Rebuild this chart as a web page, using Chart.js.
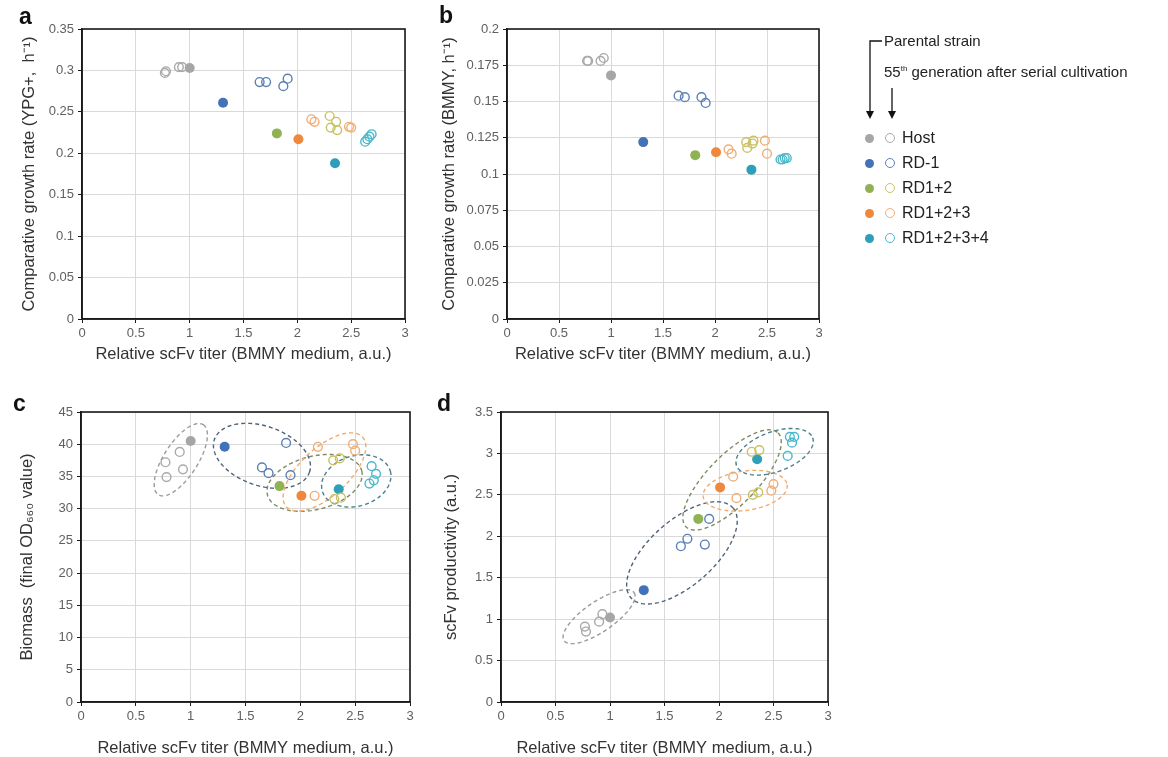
<!DOCTYPE html>
<html><head><meta charset="utf-8">
<script src="https://cdn.jsdelivr.net/npm/chart.js@4.4.1/dist/chart.umd.min.js"></script>
<style>
html,body{margin:0;padding:0;background:#fff;}
body{width:1168px;height:757px;overflow:hidden;position:relative;font-family:"Liberation Sans",Arial,sans-serif;}
.pan{position:absolute;}
.lab{position:absolute;font-weight:bold;font-size:23px;line-height:23px;color:#111;}
.lg{position:absolute;color:#222;white-space:nowrap;}
.dot{position:absolute;width:9px;height:9px;border-radius:50%;}
.ring{position:absolute;width:8px;height:8px;border-radius:50%;border:1.3px solid;background:#fff;}
</style></head>
<body>
<div class="pan" style="left:0;top:0;width:420px;height:370px;"><canvas id="ca"></canvas></div>
<div class="pan" style="left:420px;top:0;width:420px;height:370px;"><canvas id="cb"></canvas></div>
<div class="pan" style="left:0;top:380px;width:420px;height:377px;"><canvas id="cc"></canvas></div>
<div class="pan" style="left:420px;top:380px;width:420px;height:377px;"><canvas id="cd"></canvas></div>
<div class="lab" style="left:19px;top:5px;">a</div>
<div class="lab" style="left:439px;top:4px;">b</div>
<div class="lab" style="left:13px;top:392px;">c</div>
<div class="lab" style="left:437px;top:392px;">d</div>
<div id="legend"></div>
<script>
// ---------- data ----------
const groupNames = ['Host', 'RD-1', 'RD1+2', 'RD1+2+3', 'RD1+2+3+4'];
const xTickValues = [0, 0.5, 1, 1.5, 2, 2.5, 3];
const xTickLabels = ['0', '0.5', '1', '1.5', '2', '2.5', '3'];
const yTicksA = [0, 0.05, 0.1, 0.15, 0.2, 0.25, 0.3, 0.35];
const yLabelsA = ['0', '0.05', '0.1', '0.15', '0.2', '0.25', '0.3', '0.35'];
const yTicksB = [0, 0.025, 0.05, 0.075, 0.1, 0.125, 0.15, 0.175, 0.2];
const yLabelsB = ['0', '0.025', '0.05', '0.075', '0.1', '0.125', '0.15', '0.175', '0.2'];
const yTicksC = [0, 5, 10, 15, 20, 25, 30, 35, 40, 45];
const yLabelsC = ['0', '5', '10', '15', '20', '25', '30', '35', '40', '45'];
const yTicksD = [0, 0.5, 1, 1.5, 2, 2.5, 3, 3.5];
const yLabelsD = ['0', '0.5', '1', '1.5', '2', '2.5', '3', '3.5'];

// relative scFv titer (x) – parental strains (one per group)
const xParental = [1.00, 1.31, 1.81, 2.01, 2.35];
// relative scFv titer (x) – 55th generation clones per group
const xHost55 = [0.77, 0.78, 0.90, 0.93];
const xRD1_55 = [1.65, 1.71, 1.87, 1.91];
const xRD12_55 = [2.30, 2.31, 2.36, 2.37];
const xRD123_55 = [2.13, 2.16, 2.48, 2.50];
const xRD1234_55 = [2.63, 2.65, 2.67, 2.69];

// panel a: growth rate YPG+
const aParental = [0.303, 0.261, 0.224, 0.217, 0.188];
const aHost55 = [0.297, 0.299, 0.304, 0.304];
const aRD1_55 = [0.286, 0.286, 0.281, 0.290];
const aRD12_55 = [0.245, 0.231, 0.238, 0.228];
const aRD123_55 = [0.241, 0.238, 0.232, 0.231];
const aRD1234_55 = [0.214, 0.217, 0.220, 0.223];

// panel b: growth rate BMMY
const bParental = [0.168, 0.122, 0.113, 0.115, 0.103];
const bHost55 = [0.178, 0.178, 0.178, 0.180];
const bRD1_55 = [0.154, 0.153, 0.153, 0.149];
const bRD12_55 = [0.122, 0.118, 0.121, 0.123];
const bRD123_55 = [0.117, 0.114, 0.123, 0.114];
const bRD1234_55 = [0.110, 0.110, 0.111, 0.111];

// panel c: biomass
const cParental = [40.5, 39.6, 33.5, 32.0, 33.0];
const cHost55 = [37.2, 34.9, 38.8, 36.1];
const cRD1_55 = [36.4, 35.5, 40.2, 35.2];
const cRD12_55 = [37.5, 31.5, 37.8, 31.7];
const cRD123_55 = [32.0, 39.6, 40.0, 39.0];
const cRD1234_55 = [33.9, 36.6, 34.4, 35.4];

// panel d: scFv productivity
const dParental = [1.02, 1.35, 2.21, 2.59, 2.93];
const dHost55 = [0.91, 0.85, 0.97, 1.06];
const dRD1_55 = [1.88, 1.97, 1.90, 2.21];
const dRD12_55 = [3.02, 2.50, 2.53, 3.04];
const dRD123_55 = [2.72, 2.46, 2.55, 2.63];
const dRD1234_55 = [2.97, 3.20, 3.13, 3.20];

// group ellipses [centerX, centerY, axis1X, axis1Y, axis2X, axis2Y] in data units
const cEllipses = [
  [0.91, 37.6, 0.205, 5.43, 0.130, -1.43],
  [1.65, 38.2, 0.433, -2.56, 0.091, 4.35],
  [2.13, 34.0, 0.43, 1.86, 0.060, -4.0],
  [2.22, 35.7, 0.346, 5.43, 0.150, -2.7],
  [2.51, 34.3, 0.31, 1.55, 0.063, -3.75]
];
const dEllipses = [
  [0.90, 1.03, 0.321, 0.29, 0.079, -0.148],
  [1.66, 1.80, 0.468, 0.543, 0.196, -0.294],
  [2.12, 2.68, 0.422, 0.567, 0.160, -0.211],
  [2.24, 2.55, 0.385, 0.072, 0.025, -0.235],
  [2.51, 3.02, 0.349, 0.169, 0.064, -0.225]
];

// ---------- styles ----------
const fillColors = ['#a6a6a6', '#4472b8', '#8fb352', '#f0883c', '#2e9fb8'];
const openColors = ['#a9a9a9', '#5b80b6', '#c9c264', '#f2ad74', '#4bb9cc'];
const ellipseColors = ['#9c9c9c', '#4f6278', '#7f8b63', '#f2ab6c', '#4c808c'];
const FONT = '"Liberation Sans", Arial, sans-serif';
Chart.defaults.font.family = FONT;

const ellipsePlugin = {
  id: 'ellipses',
  beforeDatasetsDraw(chart, args, opts) {
    const list = opts.items || [];
    const xs = chart.scales.x, ys = chart.scales.y, ctx = chart.ctx;
    ctx.save();
    list.forEach((e, i) => {
      const [cx, cy, ux, uy, vx, vy] = e;
      ctx.beginPath();
      for (let k = 0; k <= 120; k++) {
        const t = k / 120 * 2 * Math.PI;
        const px = xs.getPixelForValue(cx + ux * Math.cos(t) + vx * Math.sin(t));
        const py = ys.getPixelForValue(cy + uy * Math.cos(t) + vy * Math.sin(t));
        if (k) ctx.lineTo(px, py); else ctx.moveTo(px, py);
      }
      ctx.closePath();
      ctx.setLineDash([4, 3]);
      ctx.lineWidth = 1.4;
      ctx.strokeStyle = ellipseColors[i];
      ctx.stroke();
    });
    ctx.restore();
  }
};
const framePlugin = {
  id: 'frame',
  afterDatasetsDraw(chart) {
    const a = chart.chartArea, ctx = chart.ctx;
    ctx.save();
    ctx.strokeStyle = '#1a1a1a';
    ctx.lineWidth = 1.6;
    ctx.strokeRect(a.left, a.top, a.right - a.left, a.bottom - a.top);
    ctx.restore();
  }
};

function pts(xs, ys) { return xs.map((x, i) => ({x: x, y: ys[i]})); }

function makePanel(id, cfg) {
  const open55X = [xHost55, xRD1_55, xRD12_55, xRD123_55, xRD1234_55];
  const datasets = [];
  cfg.open.forEach((ys, g) => {
    datasets.push({
      label: groupNames[g] + ' 55th', data: pts(open55X[g], ys),
      pointRadius: 4.4, pointBorderWidth: 1.4,
      pointBackgroundColor: 'rgba(255,255,255,0)', pointBorderColor: openColors[g],
      showLine: false
    });
  });
  cfg.parental.forEach((y, g) => {
    datasets.push({
      label: groupNames[g] + ' parental', data: [{x: xParental[g], y: y}],
      pointRadius: 5, pointBorderWidth: 0,
      pointBackgroundColor: fillColors[g], pointBorderColor: fillColors[g],
      showLine: false
    });
  });
  const W = 420, H = cfg.H;
  new Chart(document.getElementById(id), {
    type: 'scatter',
    data: {datasets},
    plugins: [ellipsePlugin, framePlugin],
    options: {
      responsive: true, maintainAspectRatio: false, animation: false,
      layout: {padding: {left: 0, top: cfg.T, right: W - cfg.R, bottom: 0}},
      plugins: {legend: {display: false}, tooltip: {enabled: false},
        ellipses: {items: cfg.ellipses || []}},
      scales: {
        x: {
          type: 'linear', min: 0, max: 3,
          afterBuildTicks: s => { s.ticks = xTickValues.map(v => ({value: v})); },
          afterFit: s => { s.height = H - cfg.B; },
          ticks: {callback: (v, i) => xTickLabels[i], font: {size: 13}, color: '#606060', padding: 3, maxRotation: 0},
          grid: {color: '#d9d9d9', lineWidth: 1, tickColor: '#1a1a1a', tickLength: 4},
          border: {color: '#1a1a1a', width: 1.6},
          title: {display: true, text: 'Relative scFv titer (BMMY medium, a.u.)', color: '#333',
            font: {size: 16.5, lineHeight: 1.05}, padding: {top: 0, bottom: cfg.xtb}}
        },
        y: {
          type: 'linear', min: 0, max: cfg.ymax,
          afterBuildTicks: s => { s.ticks = cfg.yt.map(v => ({value: v})); },
          afterFit: s => { s.width = cfg.L; },
          ticks: {callback: (v, i) => cfg.yl[i], font: {size: 13}, color: '#606060', padding: 4},
          grid: {color: '#d9d9d9', lineWidth: 1, tickColor: '#1a1a1a', tickLength: 4},
          border: {color: '#1a1a1a', width: 1.6},
          title: {display: true, text: cfg.ytitle, color: '#333',
            font: {size: 16.5, lineHeight: 1.05}, padding: {top: cfg.ytp, bottom: 0}}
        }
      }
    }
  });
}

makePanel('ca', {H: 370, L: 82, R: 405, T: 29, B: 319, xtb: 7, ytp: 21,
  ymax: 0.35, yt: yTicksA, yl: yLabelsA, ytitle: 'Comparative growth rate (YPG+,  h\u207B\u00B9)',
  parental: aParental, open: [aHost55, aRD1_55, aRD12_55, aRD123_55, aRD1234_55]});
makePanel('cb', {H: 370, L: 87, R: 399, T: 29, B: 319, xtb: 7, ytp: 21,
  ymax: 0.2, yt: yTicksB, yl: yLabelsB, ytitle: 'Comparative growth rate (BMMY, h\u207B\u00B9)',
  parental: bParental, open: [bHost55, bRD1_55, bRD12_55, bRD123_55, bRD1234_55]});
makePanel('cc', {H: 377, L: 81, R: 410, T: 32, B: 322, xtb: 0, ytp: 19,
  ymax: 45, yt: yTicksC, yl: yLabelsC, ytitle: 'Biomass  (final OD\u2086\u2086\u2080 value)',
  parental: cParental, open: [cHost55, cRD1_55, cRD12_55, cRD123_55, cRD1234_55], ellipses: cEllipses});
makePanel('cd', {H: 377, L: 81, R: 408, T: 32, B: 322, xtb: 0, ytp: 23,
  ymax: 3.5, yt: yTicksD, yl: yLabelsD, ytitle: 'scFv productivity (a.u.)',
  parental: dParental, open: [dHost55, dRD1_55, dRD12_55, dRD123_55, dRD1234_55], ellipses: dEllipses});

// ---------- legend ----------
(function () {
  const L = document.getElementById('legend');
  let html = '';
  html += '<svg style="position:absolute;left:0;top:0" width="1168" height="300">' +
    '<path d="M882 41 H870 V111" stroke="#111" stroke-width="1.3" fill="none"/>' +
    '<path d="M866 111 L874 111 L870 119 Z" fill="#111"/>' +
    '<path d="M892 88 V111" stroke="#111" stroke-width="1.3" fill="none"/>' +
    '<path d="M888 111 L896 111 L892 119 Z" fill="#111"/></svg>';
  html += '<div class="lg" style="left:884px;top:32px;font-size:15px;">Parental strain</div>';
  html += '<div class="lg" style="left:884px;top:63px;font-size:15px;">55<sup style="font-size:8px">th</sup> generation after serial cultivation</div>';
  const rows = [138, 163, 188, 213, 238];
  groupNames.forEach((n, g) => {
    const y = rows[g];
    html += '<div class="dot" style="left:' + (869 - 4.5) + 'px;top:' + (y - 4.5) + 'px;background:' + fillColors[g] + '"></div>';
    html += '<div class="ring" style="left:' + (890 - 5.3) + 'px;top:' + (y - 5.3) + 'px;border-color:' + openColors[g] + '"></div>';
    html += '<div class="lg" style="left:902px;top:' + (y - 10) + 'px;font-size:16px;line-height:20px;">' + n + '</div>';
  });
  L.innerHTML = html;
})();
</script>
</body></html>
